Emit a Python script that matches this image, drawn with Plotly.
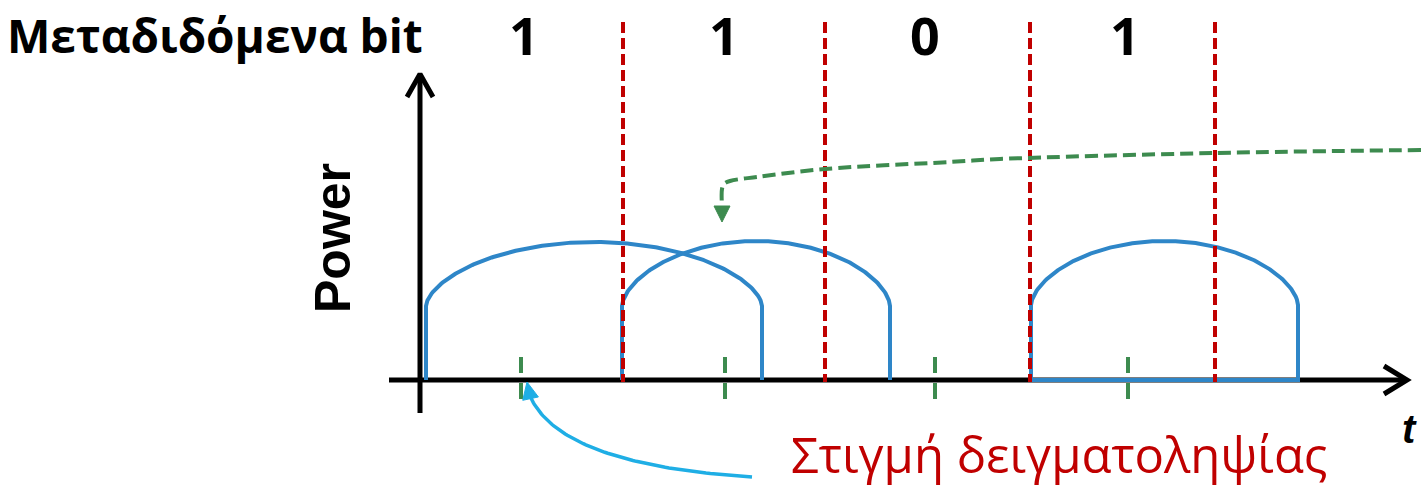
import numpy as np
import plotly.graph_objects as go

# ---------------- data (diagram units: t = time, p = power; origin at axes crossing) ----------------
bit_values = ["1", "1", "0", "1"]
bit_label_t = [104, 304, 505, 705]
bit_boundary_t = [203, 405, 610, 795]
sample_t = [101, 305, 515, 708]

pulse_start_t = [6, 202, 611]
pulse_end_t = [342, 470, 878]
pulse_shoulder_p = [74, 74, 75]
pulse_peak_p = [138, 139, 139]
pulse_closed = [False, False, True]

# green dashed pointer (path through these points)
pointer_t = [1001, 795, 580, 530, 405, 337, 310, 304, 302, 302]
pointer_p = [230, 227, 221, 218, 211, 203, 199, 196, 191, 174]
pointer_tip = (302, 158)

# light-blue curved arrow to the sampling instant (quadratic Bezier control points)
callout_ctrl_t = [332, 140, 110]
callout_ctrl_p = [-97, -85, -16]
callout_tip = (107, -2)

title_text = "Μεταδιδόμενα bit"
ylabel_text = "Power"
xlabel_text = "t"
callout_text = "Στιγμή δειγματοληψίας"

# ---------------- figure geometry ----------------
W, H = 1421, 488
X0, Y0 = 420, 380  # pixel position of the origin

BLUE = "#2E86C8"
RED = "#C00000"
GREEN = "#3D8B4F"
CYAN = "#1FAEE5"

fig = go.Figure()

def line(x, y, color, width, dash=None, shape="linear"):
    fig.add_trace(go.Scatter(x=x, y=y, mode="lines",
                             line=dict(color=color, width=width, dash=dash, shape=shape),
                             hoverinfo="skip", showlegend=False))

def head(tip, frm, color, length, half):
    tip = np.array(tip, float)
    d = tip - np.array(frm, float)
    d /= np.linalg.norm(d)
    n = np.array([-d[1], d[0]])
    b = tip - length * d
    pts = [b + half * n, tip, b - half * n, b + half * n]
    fig.add_trace(go.Scatter(x=[q[0] for q in pts], y=[q[1] for q in pts], mode="lines",
                             fill="toself", fillcolor=color, line=dict(color=color, width=1),
                             hoverinfo="skip", showlegend=False))

# axes
line([-31, 987], [0, 0], "black", 5)
line([964, 987, 964], [14, 0, -14], "black", 5)
line([0, 0], [-33, 306], "black", 5)
line([-13, 0, 13], [283, 306, 283], "black", 5)

# pulses
for s, e, sh, pk, cl in zip(pulse_start_t, pulse_end_t, pulse_shoulder_p, pulse_peak_p, pulse_closed):
    u = np.linspace(-1, 1, 241)
    mid, half = (s + e) / 2, (e - s) / 2
    tt = mid + half * u
    pp = sh + (pk - sh) * np.clip(1 - u ** 2, 0, None) ** 0.6
    xs = [s] + list(tt) + [e]
    ys = [0] + list(pp) + [0]
    if cl:
        xs += [s]
        ys += [0]
    line(xs, ys, BLUE, 4)

# bit boundaries
for b in bit_boundary_t:
    line([b, b], [358, -2], RED, 4, dash="11px,5px")

# sampling instants
for s in sample_t:
    line([s, s], [23, -20], GREEN, 4, dash="16px,10px")

# green pointer
line(pointer_t, pointer_p, GREEN, 4, dash="13px,6px", shape="spline")
head(pointer_tip, (pointer_t[-1], pointer_p[-1]), GREEN, 16, 8)

# cyan callout arrow (quadratic Bezier through the control points)
s_ = np.linspace(0, 1, 80)
c_t, c_p = np.array(callout_ctrl_t, float), np.array(callout_ctrl_p, float)
bt = (1 - s_) ** 2 * c_t[0] + 2 * (1 - s_) * s_ * c_t[1] + s_ ** 2 * c_t[2]
bp = (1 - s_) ** 2 * c_p[0] + 2 * (1 - s_) * s_ * c_p[1] + s_ ** 2 * c_p[2]
line(bt, bp, CYAN, 3.5)
head(callout_tip, (c_t[-1], c_p[-1]), CYAN, 17, 8)

# texts
ann = []
ann.append(dict(x=-205, y=345, text=f"<b>{title_text}</b>", showarrow=False,
                font=dict(family="Open Sans", size=46, color="black")))
for v, t in zip(bit_values, bit_label_t):
    ann.append(dict(x=t, y=346, text=f"<b>{v}</b>", showarrow=False,
                    font=dict(family="Open Sans", size=52, color="black")))
ann.append(dict(x=-87, y=142, text=f"<b>{ylabel_text}</b>", textangle=-90, showarrow=False,
                font=dict(family="Liberation Sans", size=50, color="black")))
ann.append(dict(x=989, y=-49, text=f"<b><i>{xlabel_text}</i></b>", showarrow=False,
                font=dict(family="Liberation Sans", size=40, color="black")))
ann.append(dict(x=639, y=-74, text=callout_text, showarrow=False,
                font=dict(family="Open Sans", size=49, color=RED)))

fig.update_layout(
    width=W, height=H, margin=dict(l=0, r=0, t=0, b=0),
    paper_bgcolor="white", plot_bgcolor="white",
    xaxis=dict(range=[-X0, W - X0], visible=False, fixedrange=True),
    yaxis=dict(range=[Y0 - H, Y0], visible=False, fixedrange=True),
    annotations=ann, showlegend=False,
)

fig.write_html("out.html", config={"displayModeBar": False},
               post_script="document.body.style.margin='0';")
